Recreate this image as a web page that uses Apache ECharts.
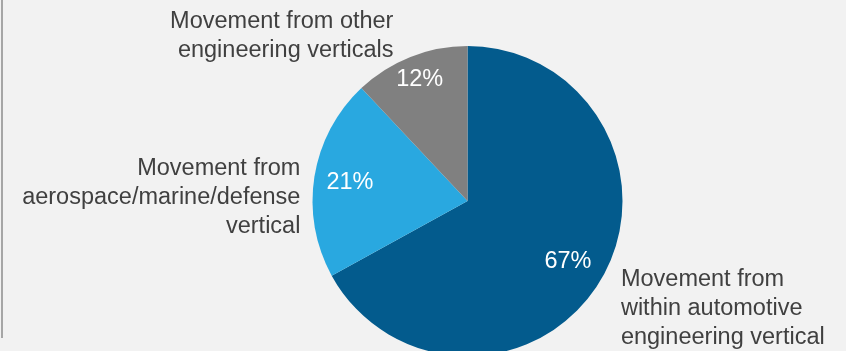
<!DOCTYPE html>
<html>
<head>
<meta charset="utf-8">
<script src="https://cdn.jsdelivr.net/npm/echarts@6/dist/echarts.min.js"></script>
<style>
  html, body { margin: 0; padding: 0; background: #f2f2f2; }
  #chart { width: 846px; height: 351px; }
</style>
</head>
<body>
<div id="chart"></div>
<script>
// Data
const categories = [
  'Movement from\nwithin automotive\nengineering vertical',
  'Movement from\naerospace/marine/defense\nvertical',
  'Movement from other\nengineering verticals'
];
const shares = [67, 21, 12];
const sliceColors = ['#035b8d', '#29a8e0', '#808080'];

// Label nudges (styling only)
const nameOffsets = [[20, 29], [-14, 21], [-17, -21]];
const pctOffsets = [[-2, 0], [0, 0], [-4, -11]];

const chart = echarts.init(document.getElementById('chart'), null, { renderer: 'canvas' });

const font = '"Liberation Sans", Arial, Helvetica, sans-serif';
const CX = 467.5, CY = 201, R = 155;

const option = {
  backgroundColor: '#f2f2f2',
  animation: false,
  graphic: [{
    type: 'line',
    shape: { x1: 2, y1: 0, x2: 2, y2: 338 },
    style: { stroke: '#a6a6a6', lineWidth: 2 }
  }],
  series: [
    {
      type: 'pie',
      center: [CX, CY],
      radius: [0, R],
      startAngle: 90,
      clockwise: true,
      avoidLabelOverlap: false,
      silent: true,
      data: categories.map((c, i) => ({ name: c, value: shares[i], itemStyle: { color: sliceColors[i] } })),
      itemStyle: { borderWidth: 0 },
      label: {
        show: true,
        position: 'outside',
        formatter: '{b}',
        fontFamily: font,
        fontSize: 23.5,
        lineHeight: 29,
        color: '#404040',
        distanceToLabelLine: 0,
        overflow: 'none'
      },
      labelLine: { show: false, length: 0, length2: 0 },
      labelLayout: function (p) {
        const o = nameOffsets[p.dataIndex];
        return { dx: o[0], dy: o[1] };
      }
    },
    {
      type: 'pie',
      center: [CX, CY],
      radius: [77, R],
      startAngle: 90,
      clockwise: true,
      avoidLabelOverlap: false,
      silent: true,
      data: categories.map((c, i) => ({ name: c, value: shares[i] })),
      itemStyle: { color: 'rgba(0,0,0,0)', borderWidth: 0 },
      label: {
        show: true,
        position: 'inside',
        formatter: '{c}%',
        fontFamily: font,
        fontSize: 23.5,
        color: '#ffffff'
      },
      labelLine: { show: false },
      labelLayout: function (p) {
        const o = pctOffsets[p.dataIndex];
        return { dx: o[0], dy: o[1] };
      }
    }
  ]
};

chart.setOption(option);
</script>
</body>
</html>
